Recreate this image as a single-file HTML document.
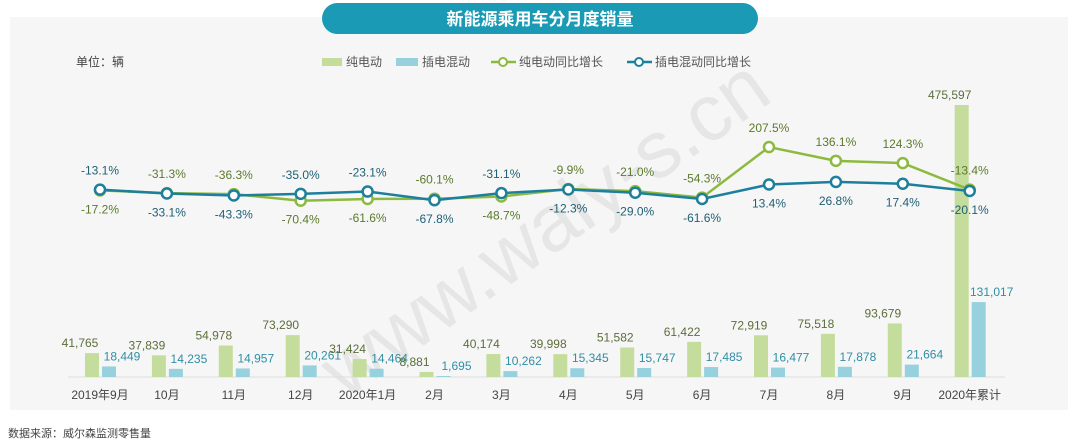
<!DOCTYPE html>
<html><head><meta charset="utf-8"><style>
body{margin:0;width:1080px;height:444px;background:#fff;overflow:hidden;font-family:"Liberation Sans","Noto Sans CJK SC",sans-serif}
svg{display:block}
</style></head><body>
<svg id="chart" width="1080" height="444" viewBox="0 0 1080 444" xmlns="http://www.w3.org/2000/svg" font-family="Liberation Sans, Noto Sans CJK SC, sans-serif">
<rect x="10" y="17" width="1058" height="393" fill="#f6f6f6"/>
<rect x="322" y="3" width="436" height="31" rx="15.5" fill="#1a9ab5"/>
<text x="540" y="25" text-anchor="middle" font-size="17" font-weight="bold" fill="#fff">新能源乘用车分月度销量</text>
<text x="76" y="66" font-size="12" fill="#444">单位：辆</text>
<g font-size="12" fill="#555">
<rect x="322" y="58" width="20" height="8" fill="#c5dd9c"/>
<text x="346" y="66">纯电动</text>
<rect x="396" y="58" width="22" height="8" fill="#97d1de"/>
<text x="422" y="66">插电混动</text>
<line x1="491" y1="62" x2="516" y2="62" stroke="#8cba3f" stroke-width="2.5"/>
<circle cx="503" cy="62" r="4" fill="#fff" stroke="#8cba3f" stroke-width="2"/>
<text x="519" y="66">纯电动同比增长</text>
<line x1="627" y1="62" x2="652" y2="62" stroke="#1d7f9b" stroke-width="2.5"/>
<circle cx="639" cy="62" r="4" fill="#fff" stroke="#1d7f9b" stroke-width="2"/>
<text x="655" y="66">插电混动同比增长</text>
</g>
<text x="560" y="250" font-size="80" fill="#e6e6e6" transform="rotate(-35 560 250)" text-anchor="middle">www.waly-s.cn</text>
<line x1="68" y1="377" x2="1005" y2="377" stroke="#ddd" stroke-width="1"/>
<g id="marks"></g>
<text x="8" y="437" font-size="11" fill="#444">数据来源：威尔森监测零售量</text>
</svg>
<script>
const categories=["2019年9月","10月","11月","12月","2020年1月","2月","3月","4月","5月","6月","7月","8月","9月","2020年累计"];
const bevSales=[41765,37839,54978,73290,31424,8881,40174,39998,51582,61422,72919,75518,93679,475597];
const phevSales=[18449,14235,14957,20261,14464,1695,10262,15345,15747,17485,16477,17878,21664,131017];
const bevGrowth=[-17.2,-31.3,-36.3,-70.4,-61.6,-60.1,-48.7,-9.9,-21.0,-54.3,207.5,136.1,124.3,-13.4];
const phevGrowth=[-13.1,-33.1,-43.3,-35.0,-23.1,-67.8,-31.1,-12.3,-29.0,-61.6,13.4,26.8,17.4,-20.1];
const phevLabelAbove=[1,0,0,1,1,0,1,0,0,0,0,0,0,0];

const NS="http://www.w3.org/2000/svg";
const g=document.getElementById('marks');
const xPos=i=>100+i*66.9;
const ySales=v=>377-v*272/475597;
const yPct=p=>187.1-p*0.193;
const fmt=v=>v.toLocaleString('en-US');
function mk(tag,attrs,parent){const e=document.createElementNS(NS,tag);for(const k in attrs)e.setAttribute(k,attrs[k]);(parent||g).appendChild(e);return e;}

categories.forEach((c,i)=>{
  const x=xPos(i);
  const b=mk('rect',{x:x-15,y:ySales(bevSales[i]),width:14,height:377-ySales(bevSales[i]),fill:'#c5dd9c'});
  
  
  const p=mk('rect',{x:x+2,y:ySales(phevSales[i]),width:14,height:377-ySales(phevSales[i]),fill:'#97d1de'});
  
  
  const bl=mk('text',{x:x-20,y:ySales(bevSales[i])-6,'text-anchor':'middle','font-size':12,fill:'#5b6e3a'});
  bl.textContent=fmt(bevSales[i]);
  
  
  const pl=mk('text',{x:x+22,y:ySales(phevSales[i])-6,'text-anchor':'middle','font-size':12,fill:'#2f8fa6'});
  pl.textContent=fmt(phevSales[i]);
  
  
  const cl=mk('text',{x:x,y:399,'text-anchor':'middle','font-size':12,fill:'#444'});
  cl.textContent=c;
  
  
});

function line(vals,color,name){
  const pl=mk('polyline',{points:vals.map((v,i)=>xPos(i)+','+yPct(v)).join(' '),fill:'none',stroke:color,'stroke-width':2.5});
  
  
  vals.forEach((v,i)=>{
    const c=mk('circle',{cx:xPos(i),cy:yPct(v),r:5,fill:'#fff',stroke:color,'stroke-width':2.5});
    
    
  });
}
line(bevGrowth,'#8cba3f','bev-growth');
line(phevGrowth,'#1d7f9b','phev-growth');

categories.forEach((c,i)=>{
  const x=xPos(i);
  const bAbove=!phevLabelAbove[i];
  const bt=mk('text',{x:x,y:bAbove?yPct(bevGrowth[i])-15:yPct(bevGrowth[i])+23,'text-anchor':'middle','font-size':12,fill:'#5b7a2c'});
  bt.textContent=bevGrowth[i].toFixed(1)+'%';
  
  
  const pt=mk('text',{x:x,y:bAbove?yPct(phevGrowth[i])+23:yPct(phevGrowth[i])-15,'text-anchor':'middle','font-size':12,fill:'#1f5f74'});
  pt.textContent=phevGrowth[i].toFixed(1)+'%';
  
  
});
</script>
</body></html>
